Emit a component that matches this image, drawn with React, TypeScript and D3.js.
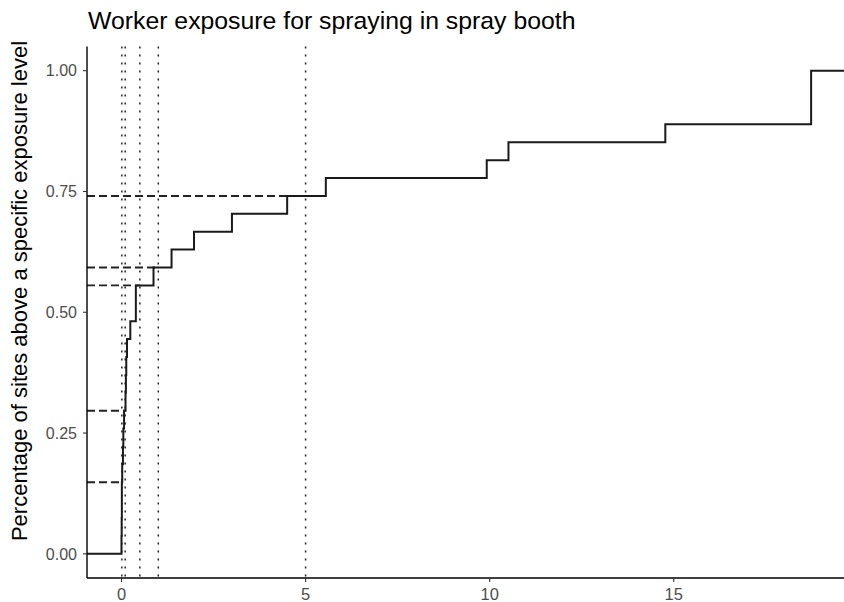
import * as d3 from 'd3';
import React from "react";

const WIDTH = 844;
const HEIGHT = 602;

// exposure values per site (27 sites)
const exposures = [
    0, 0.005, 0.01, 0.01, 0.02, 0.04, 0.05, 0.07, 0.11, 0.12, 0.13, 0.15, 0.24,
    0.39, 0.39, 0.87, 1.36, 1.97, 3.0, 4.5, 5.55, 9.92, 10.51, 14.77, 18.73, 18.73, 18.73
];
// reference exposure levels (dotted vertical lines)
const thresholds = [0.01, 0.1, 0.5, 1, 5];
const xTicks = [0, 5, 10, 15];
const yTicks = [0, 0.25, 0.5, 0.75, 1];

const TITLE = "Worker exposure for spraying in spray booth";
const Y_TITLE = "Percentage of sites above a specific exposure level";

const panel = {left: 87, right: 845.6, top: 46.5, bottom: 578};
const FONT = "'Liberation Sans', Arial, sans-serif";

export default function App() {
    const sorted = [...exposures].sort((a, b) => a - b);
    const n = sorted.length;
    const lo = sorted[0], hi = sorted[n - 1];
    const pad = (hi - lo) * 0.05;

    const x = d3.scaleLinear().domain([lo - pad, hi + pad]).range([panel.left, panel.right]);
    const y = d3.scaleLinear().domain([-0.05, 1.05]).range([panel.bottom, panel.top]);

    const ecdf = (t: number) => sorted.filter(v => v <= t).length / n;

    const pts: [number, number][] = [[lo - pad, 0]];
    sorted.forEach((v, i) => pts.push([v, (i + 1) / n]));
    pts.push([hi + pad, 1]);

    const line = d3.line<[number, number]>()
        .x(d => x(d[0]))
        .y(d => y(d[1]))
        .curve(d3.curveStepAfter);

    return (
        <svg width={WIDTH} height={HEIGHT} style={{position: "absolute", left: 0, top: 0, background: "#fff"}}
             fontFamily={FONT}>
            <text x={88} y={29} fontSize={24.8} fill="#000">{TITLE}</text>
            <text transform={`translate(27,291) rotate(-90)`}
                  textAnchor="middle" fontSize={22} fill="#000">{Y_TITLE}</text>

            {thresholds.map(t => (
                <line key={"v" + t} x1={x(t)} x2={x(t)} y1={panel.top} y2={panel.bottom}
                      stroke="#222" strokeWidth={1.5} strokeDasharray="2,6"/>
            ))}
            {thresholds.map(t => (
                <line key={"h" + t} x1={panel.left} x2={x(t)} y1={y(ecdf(t))} y2={y(ecdf(t))}
                      stroke="#222" strokeWidth={1.9} strokeDasharray="8,4"/>
            ))}

            <path d={line(pts) || ""} fill="none" stroke="#1a1a1a" strokeWidth={2}/>

            {/* axes */}
            <line x1={panel.left} x2={panel.left} y1={panel.top} y2={panel.bottom} stroke="#000" strokeWidth={1.4}/>
            <line x1={panel.left} x2={WIDTH} y1={panel.bottom} y2={panel.bottom} stroke="#000" strokeWidth={1.4}/>
            {yTicks.map(t => (
                <g key={"y" + t}>
                    <line x1={panel.left - 4} x2={panel.left} y1={y(t)} y2={y(t)} stroke="#333" strokeWidth={1.1}/>
                    <text x={panel.left - 10} y={y(t)} dy="0.36em" textAnchor="end" fontSize={16}
                          fill="#4D4D4D">{d3.format(".2f")(t)}</text>
                </g>
            ))}
            {xTicks.map(t => (
                <g key={"x" + t}>
                    <line x1={x(t)} x2={x(t)} y1={panel.bottom} y2={panel.bottom + 4} stroke="#333" strokeWidth={1.1}/>
                    <text x={x(t)} y={panel.bottom + 22} textAnchor="middle" fontSize={16.5}
                          fill="#4D4D4D">{t}</text>
                </g>
            ))}
        </svg>
    );
}
